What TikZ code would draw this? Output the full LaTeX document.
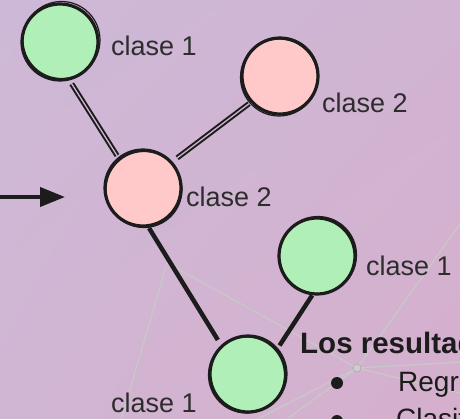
\documentclass[tikz,border=0pt]{standalone}
\usepackage{fontspec}
\setmainfont{Liberation Sans}
\usetikzlibrary{arrows.meta,shadings}
\definecolor{bgTL}{RGB}{205,185,215}
\definecolor{bgTR}{RGB}{208,180,210}
\definecolor{bgBL}{RGB}{209,182,211}
\definecolor{bgBR}{RGB}{213,175,205}
\definecolor{bgMid}{RGB}{208,181,210}
\definecolor{greenfill}{RGB}{176,240,184}
\definecolor{pinkfill}{RGB}{255,201,201}
\definecolor{inkc}{RGB}{28,28,28}
\definecolor{labelc}{RGB}{45,45,45}
\definecolor{netc}{RGB}{200,200,200}
\begin{document}
\begin{tikzpicture}[x=1pt,y=-1pt,
  ball/.style={circle,draw=inkc,line width=3.2pt,minimum size=76pt,inner sep=0pt},
  greenball/.style={ball,fill=greenfill},
  pinkball/.style={ball,fill=pinkfill},
  sketchline/.style={draw=inkc,line width=1.2pt},
  lbl/.style={anchor=base west,inner sep=0pt,text=labelc,font=\fontsize{27}{30}\selectfont},
  txt/.style={anchor=base west,inner sep=0pt,text=inkc,font=\fontsize{28}{30}\selectfont},
  duo/.style={draw=inkc,line width=2pt,double=bgMid,double distance=1.3pt},
  single/.style={draw=inkc,line width=4.5pt},
  netline/.style={draw=netc,line width=1.3pt}]
\useasboundingbox (0,0) rectangle (460,418);
\clip (0,0) rectangle (460,418);
\shade[upper left=bgTL,upper right=bgTR,lower left=bgBL,lower right=bgBR] (0,0) rectangle (460,418);

% decorative network
\coordinate (h1) at (167,263);
\coordinate (h2) at (357,368);
\coordinate (n1) at (118,430);
\coordinate (n2) at (480,196);
\coordinate (n3) at (480,361);
\coordinate (n4) at (480,398);
\coordinate (n5) at (240,428);
\coordinate (n6) at (272,430);
\draw[netline] (h1) -- (h2);
\draw[netline] (h1) -- (n1);
\draw[netline] (h2) -- (n2);
\draw[netline] (h2) -- (n3);
\draw[netline] (h2) -- (n4);
\draw[netline] (h2) -- (n5);
\draw[netline] (h2) -- (n6);
\node[circle,fill=netc!90!white,draw=netc!80!black,line width=0.4pt,minimum size=8pt,inner sep=0pt] (hub) at (h2) {};

% circles
\node[greenball] (A) at (60,42) {};
\node[pinkball] (B) at (280,76) {};
\node[pinkball] (C) at (143,188) {};
\node[greenball] (D) at (317,256) {};
\node[greenball] (E) at (248,374) {};
\draw[sketchline] (61.5,40) circle (38.5pt);
\draw[sketchline] (279,77.5) circle (38.5pt);
\draw[sketchline] (144,189.5) circle (38pt);
\draw[sketchline] (318,255) circle (38.5pt);
\draw[sketchline] (246.5,375) circle (38pt);

% edges
\draw[duo,shorten <=4pt,shorten >=2pt] (A.-76) -- (C.129);
\draw[duo,shorten <=6pt,shorten >=2pt] (C.42) -- (B.222);
\draw[single,shorten <=1pt,shorten >=6pt] (C.-82) -- (E.133);
\draw[single,shorten <=0pt,shorten >=3pt] (D.-97) -- (E.41);

% arrow
\coordinate (arrS) at (0,197);
\coordinate (arrE) at (65,197);
\draw[draw=inkc,line width=4pt,-{Triangle[length=25pt,width=19pt]}] (arrS) -- (arrE);

% labels
\node[lbl] (lA) at (111,55) {clase 1};
\node[lbl] (lB) at (322,112) {clase 2};
\node[lbl] (lC) at (186,206) {clase 2};
\node[lbl] (lD) at (366,275) {clase 1};
\node[lbl] (lE) at (111,412) {clase 1};

% text block
\node[txt,font=\fontsize{29.5}{32}\selectfont\bfseries] (res) at (300,353) {Los resultados};
\node[circle,fill=inkc,minimum size=12pt,inner sep=0pt] (b1) at (337,383) {};
\node[circle,fill=inkc,minimum size=12pt,inner sep=0pt] (b2) at (337,421) {};
\node[txt] (t1) at (398,391) {Regresión};
\node[txt] (t2) at (396,428) {Clasificación};
\end{tikzpicture}
\end{document}
